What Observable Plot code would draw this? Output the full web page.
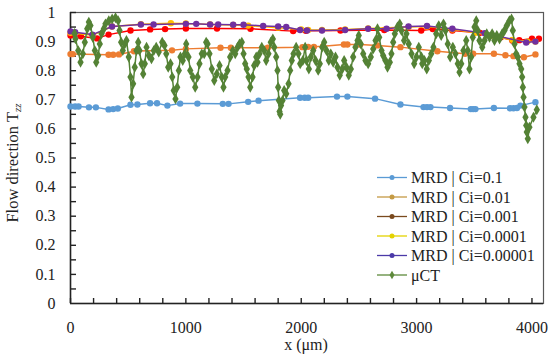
<!DOCTYPE html>
<html>
<head>
<meta charset="utf-8">
<script src="https://cdn.jsdelivr.net/npm/d3@7"></script>
<script src="https://cdn.jsdelivr.net/npm/@observablehq/plot@0.6"></script>
<style>
  html, body { margin: 0; padding: 0; background: #fff; }
  #chart { width: 550px; height: 362px; position: relative; }
  svg { font-family: "Liberation Serif", serif; }
</style>
</head>
<body>
<div id="chart"></div>
<script>
// ---- Data ----
const seriesNames = ["MRD | Ci=0.1", "MRD | Ci=0.01", "MRD | Ci=0.001", "MRD | Ci=0.0001", "MRD | Ci=0.00001", "μCT"];
const lineColors = ["#5b9bd5", "#ed7d31", "#ff0000", "#ffc000", "#7030a0", "#548235"];
const legendColors = ["#5b9bd5", "#c49a44", "#7a4a1e", "#e4d200", "#4b3aa8", "#5e8a3c"];

const xCi01 = [0, 40, 70, 160, 220, 330, 370, 410, 520, 580, 690, 750, 840, 950, 1100, 1320, 1370, 1540, 1630, 1990, 2030, 2060, 2310, 2400, 2640, 2860, 3060, 3090, 3120, 3290, 3470, 3490, 3510, 3670, 3810, 3840, 3870, 3900, 4030];
const yCi01 = [0.677, 0.677, 0.677, 0.674, 0.674, 0.667, 0.668, 0.67, 0.683, 0.684, 0.688, 0.688, 0.68, 0.687, 0.687, 0.686, 0.686, 0.693, 0.697, 0.707, 0.707, 0.707, 0.711, 0.711, 0.704, 0.684, 0.675, 0.675, 0.675, 0.672, 0.668, 0.668, 0.668, 0.672, 0.671, 0.671, 0.672, 0.68, 0.692];

const xCi001 = [0, 20, 330, 370, 420, 550, 580, 880, 1000, 1300, 1390, 1710, 2010, 2060, 2110, 2190, 2370, 2400, 2510, 2660, 2860, 3180, 3420, 3490, 3670, 3770, 3840, 3930, 4030];
const yCi001 = [0.857, 0.857, 0.855, 0.855, 0.856, 0.867, 0.868, 0.87, 0.875, 0.879, 0.879, 0.879, 0.881, 0.882, 0.882, 0.884, 0.89, 0.89, 0.89, 0.887, 0.881, 0.867, 0.858, 0.858, 0.858, 0.853, 0.85, 0.846, 0.856];

const xCi0001 = [0, 90, 230, 330, 520, 690, 820, 1000, 1270, 1560, 1930, 2040, 2340, 2720, 3040, 3140, 3310, 3550, 3730, 3830, 3890, 4000, 4060];
const yCi0001 = [0.921, 0.918, 0.911, 0.924, 0.938, 0.942, 0.943, 0.945, 0.945, 0.944, 0.936, 0.937, 0.938, 0.94, 0.938, 0.943, 0.938, 0.93, 0.915, 0.904, 0.905, 0.91, 0.91];

const xCi00001 = [0, 190, 360, 610, 870, 1000, 1210, 1410, 1540, 1800, 2000, 2060, 2180, 2380, 2580, 2930, 3090, 3310, 3510, 3650, 3830, 3960, 4030];
const yCi00001 = [0.93, 0.922, 0.952, 0.96, 0.963, 0.962, 0.959, 0.957, 0.955, 0.948, 0.942, 0.94, 0.94, 0.942, 0.945, 0.95, 0.952, 0.942, 0.93, 0.92, 0.906, 0.9, 0.9];

const xCi000001 = [0, 40, 190, 360, 610, 720, 1000, 1090, 1210, 1280, 1410, 1500, 1670, 1800, 1870, 1990, 2050, 2180, 2380, 2580, 2740, 2930, 3090, 3310, 3590, 3950, 4030];
const yCi000001 = [0.935, 0.932, 0.924, 0.952, 0.959, 0.959, 0.961, 0.961, 0.959, 0.959, 0.958, 0.958, 0.954, 0.952, 0.95, 0.94, 0.938, 0.938, 0.94, 0.944, 0.944, 0.952, 0.954, 0.944, 0.929, 0.897, 0.9];

const xMicroCT = [35, 43, 67, 87, 107, 124, 145, 159, 173, 193, 211, 223, 240, 254, 269, 289, 303, 332, 361, 390, 413, 425, 439, 453, 471, 485, 505, 520, 529, 543, 557, 572, 587, 598, 615, 630, 644, 659, 679, 702, 722, 743, 765, 795, 815, 830, 847, 867, 882, 895, 910, 925, 939, 953, 973, 991,
  1003, 1023, 1038, 1060, 1081, 1101, 1118, 1138, 1159, 1176, 1188, 1205, 1225, 1246, 1268, 1292, 1311, 1326, 1341, 1361, 1384, 1407, 1428, 1448, 1465, 1485, 1500, 1514, 1528, 1543, 1558, 1578, 1592, 1610, 1621, 1638, 1658, 1679, 1696, 1716, 1736, 1754, 1766, 1783, 1794, 1800, 1806, 1812, 1818, 1825, 1838, 1852, 1870, 1890, 1904, 1918, 1933, 1956, 1976, 1991,
  2014, 2034, 2046, 2066, 2083, 2104, 2124, 2147, 2161, 2182, 2199, 2219, 2239, 2256, 2277, 2297, 2314, 2334, 2355, 2372, 2392, 2412, 2430, 2450, 2470, 2488, 2499, 2516, 2537, 2557, 2580, 2603, 2624, 2644, 2661, 2676, 2696, 2710, 2730, 2748, 2768, 2782, 2797, 2811, 2834, 2854, 2869, 2892, 2912, 2932, 2956, 2979, 2999,
  3019, 3042, 3049, 3068, 3088, 3106, 3127, 3146, 3170, 3192, 3213, 3233, 3251, 3270, 3291, 3314, 3337, 3357, 3372, 3387, 3406, 3430, 3444, 3458, 3473, 3487, 3502, 3517, 3530, 3545, 3569, 3589, 3608, 3632, 3655, 3675, 3695, 3719, 3742, 3762, 3782, 3805, 3823, 3834, 3849, 3863, 3877, 3892, 3907, 3915, 3921, 3927, 3935, 3944, 3950, 3955, 3964, 3978, 4013, 4042];
const yMicroCT = [0.928, 0.91, 0.869, 0.829, 0.858, 0.898, 0.944, 0.967, 0.955, 0.915, 0.869, 0.829, 0.852, 0.892, 0.927, 0.944, 0.961, 0.972, 0.978, 0.982, 0.972, 0.938, 0.898, 0.869, 0.892, 0.904, 0.847, 0.778, 0.709, 0.755, 0.812, 0.869, 0.898, 0.869, 0.824, 0.789, 0.824, 0.881, 0.852, 0.841, 0.869, 0.881, 0.864, 0.898, 0.887, 0.858, 0.812, 0.824, 0.778, 0.732, 0.703, 0.743, 0.801, 0.847, 0.835, 0.858,
  0.892, 0.847, 0.801, 0.778, 0.743, 0.778, 0.824, 0.858, 0.858, 0.898, 0.892, 0.858, 0.806, 0.766, 0.789, 0.818, 0.778, 0.743, 0.778, 0.801, 0.847, 0.869, 0.858, 0.881, 0.892, 0.898, 0.858, 0.824, 0.806, 0.778, 0.743, 0.778, 0.818, 0.847, 0.829, 0.858, 0.881, 0.869, 0.835, 0.858, 0.898, 0.909, 0.881, 0.847, 0.801, 0.743, 0.698, 0.66, 0.65, 0.68, 0.698, 0.732, 0.721, 0.755, 0.801, 0.835, 0.858, 0.881, 0.858, 0.824,
  0.835, 0.881, 0.835, 0.806, 0.847, 0.869, 0.835, 0.801, 0.824, 0.881, 0.898, 0.869, 0.835, 0.858, 0.829, 0.847, 0.812, 0.784, 0.806, 0.835, 0.812, 0.784, 0.806, 0.847, 0.881, 0.904, 0.921, 0.892, 0.858, 0.835, 0.824, 0.847, 0.875, 0.904, 0.944, 0.915, 0.869, 0.852, 0.835, 0.812, 0.829, 0.858, 0.898, 0.927, 0.95, 0.961, 0.938, 0.904, 0.927, 0.892, 0.858, 0.824, 0.847,
  0.881, 0.847, 0.824, 0.835, 0.806, 0.835, 0.858, 0.881, 0.927, 0.955, 0.921, 0.961, 0.938, 0.892, 0.847, 0.881, 0.858, 0.824, 0.795, 0.824, 0.869, 0.904, 0.869, 0.806, 0.847, 0.915, 0.95, 0.972, 0.938, 0.904, 0.881, 0.904, 0.927, 0.915, 0.927, 0.904, 0.921, 0.909, 0.927, 0.938, 0.955, 0.972, 0.978, 0.938, 0.892, 0.858, 0.847, 0.824, 0.806, 0.778, 0.743, 0.709, 0.675, 0.64, 0.612, 0.589, 0.566, 0.606, 0.64, 0.666];

const xTicks = [0, 1000, 2000, 3000, 4000];
const xTickLabels = ["0", "1000", "2000", "3000", "4000"];
const yTicks = [0, 0.1, 0.2, 0.3, 0.4, 0.5, 0.6, 0.7, 0.8, 0.9, 1];
const yTickLabels = ["0", "0.1", "0.2", "0.3", "0.4", "0.5", "0.6", "0.7", "0.8", "0.9", "1"];
const xMinorTicks = d3.range(0, 4001, 200);
const yMinorTicks = d3.range(1, 21).map(i => i * 0.05);

// ---- Build tables ----
const seriesX = [xCi01, xCi001, xCi0001, xCi00001, xCi000001];
const seriesY = [yCi01, yCi001, yCi0001, yCi00001, yCi000001];
const mrd = [];
seriesX.forEach((xs, s) => xs.forEach((x, i) => mrd.push({series: seriesNames[s], x, y: seriesY[s][i]})));
const ct = xMicroCT.map((x, i) => ({series: seriesNames[5], x, y: yMicroCT[i]}));

const W = 550, H = 362, ML = 70, MR = 7, MT = 12, MB = 59;
const xDomain = [0, 4100], yDomain = [0, 1];
// inward tick lengths expressed in data units of each axis
const xPerPx = (xDomain[1] - xDomain[0]) / (W - ML - MR);
const yPerPx = (yDomain[1] - yDomain[0]) / (H - MT - MB);

const marks = [
  Plot.frame({stroke: "#595959", strokeWidth: 1.2}),
  Plot.ruleY(yMinorTicks, {y: d => d, x1: 0, x2: 6 * xPerPx, stroke: "#222", strokeWidth: 1.4}),
  Plot.ruleX(xMinorTicks, {x: d => d, y1: 0, y2: 5 * yPerPx, stroke: "#222", strokeWidth: 1.4}),
  Plot.axisY({ticks: yTicks, tickSize: 0, tickPadding: 15, tickFormat: (d, i) => yTickLabels[i], fontSize: 16, fill: "#222", label: null}),
  Plot.axisX({ticks: xTicks, tickSize: 0, tickPadding: 18, tickFormat: (d, i) => xTickLabels[i], fontSize: 16, fill: "#222", label: null}),
  Plot.ruleX([0], {stroke: "#222", strokeWidth: 1.5}),
  Plot.ruleY([0], {stroke: "#222", strokeWidth: 1.5})
];
seriesNames.slice(0, 5).forEach((name, s) => {
  const d = mrd.filter(r => r.series === name);
  marks.push(Plot.line(d, {x: "x", y: "y", stroke: lineColors[s], strokeWidth: 1.5}));
  marks.push(Plot.dot(d, {x: "x", y: "y", fill: lineColors[s], r: 3.2}));
});
marks.push(Plot.line(ct, {x: "x", y: "y", stroke: lineColors[5], strokeWidth: 1.5}));
marks.push(Plot.dot(ct, {x: "x", y: "y", fill: lineColors[5], symbol: "diamond", r: 3.3}));

const plot = Plot.plot({
  width: W,
  height: H,
  marginLeft: ML,
  marginRight: MR,
  marginTop: MT,
  marginBottom: MB,
  style: {fontFamily: "'Liberation Serif', serif", background: "#fff"},
  x: {domain: xDomain, label: null},
  y: {domain: yDomain, label: null},
  marks
});

document.getElementById("chart").appendChild(plot);

// ---- Axis titles & legend ----
const svg = d3.select(plot);
const yt = svg.append("text")
  .attr("transform", "translate(18,163) rotate(-90)")
  .attr("text-anchor", "middle")
  .attr("font-size", 16.5)
  .attr("fill", "#222");
yt.append("tspan").text("Flow direction T");
yt.append("tspan").attr("font-size", 11).attr("font-style", "italic").attr("dy", 3).text("zz");

svg.append("text")
  .attr("x", 306).attr("y", 350)
  .attr("text-anchor", "middle")
  .attr("font-size", 16)
  .attr("fill", "#222")
  .text("x (μm)");

const lg = svg.append("g").attr("transform", "translate(377,177.5)");
seriesNames.forEach((name, i) => {
  const g = lg.append("g").attr("transform", `translate(0,${i * 19.5})`);
  g.append("line").attr("x1", 0).attr("x2", 30).attr("y1", 0).attr("y2", 0)
    .attr("stroke", legendColors[i]).attr("stroke-width", 1.3);
  if (i === 5) {
    g.append("path").attr("d", d3.symbol(d3.symbolDiamond, 22)()).attr("transform", "translate(15,0)").attr("fill", legendColors[i]);
  } else {
    g.append("circle").attr("cx", 15).attr("cy", 0).attr("r", 2.5).attr("fill", legendColors[i]);
  }
  g.append("text").attr("x", 34).attr("y", 5.5).attr("text-anchor", "start")
    .attr("font-size", 16).attr("fill", "#222").text(name);
});
</script>
</body>
</html>
